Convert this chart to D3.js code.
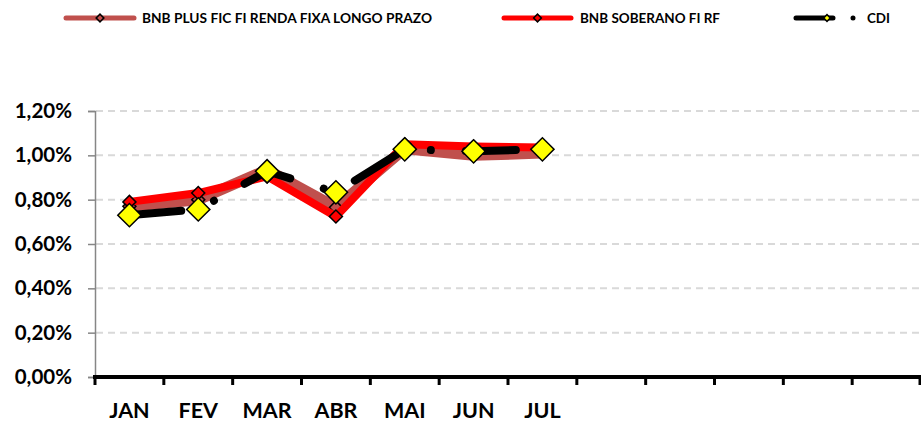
<!DOCTYPE html>
<html>
<head>
<meta charset="utf-8">
<script src="https://cdn.jsdelivr.net/npm/d3@7"></script>
<style>
body { margin: 0; background: #fff; }
svg { display: block; font-family: Lato, "Open Sans", sans-serif; font-weight: bold; }
</style>
</head>
<body>
<svg width="921" height="422"></svg>
<script>
// months on the axis (only Jan-Jul have data / labels)
const months = ["JAN", "FEV", "MAR", "ABR", "MAI", "JUN", "JUL", "AGO", "SET", "OUT", "NOV", "DEZ"];
const tickLabels = ["JAN", "FEV", "MAR", "ABR", "MAI", "JUN", "JUL", "", "", "", "", ""];

// monthly returns, %
const plusValues = [0.77, 0.80, 0.935, 0.765, 1.03, 1.00, 1.01];
const soberanoValues = [0.79, 0.83, 0.905, 0.724, 1.05, 1.04, 1.035];
const cdiValues = [0.73, 0.756, 0.928, 0.833, 1.027, 1.018, 1.027];

const yTicks = [0, 0.2, 0.4, 0.6, 0.8, 1.0, 1.2];

const series = [
	{ name: "BNB PLUS FIC FI RENDA FIXA LONGO PRAZO", values: plusValues, color: "#C0504D", width: 11, marker: "#C0504D", msize: 85 },
	{ name: "BNB SOBERANO FI RF", values: soberanoValues, color: "#FF0000", width: 8, marker: "#FF0000", msize: 85 },
	{ name: "CDI", values: cdiValues, color: "#000000", width: 8, marker: "#FFFF00", msize: 270, dash: "50,35,0.01,35" }
];

var svg = d3.select("svg");

var x = d3.scaleBand()
	.domain(d3.range(months.length))
	.range([95, 921]);

var y = d3.scaleLinear()
	.domain([0, 1.2])
	.range([377, 111]);

// gridlines
svg.append("g")
	.selectAll("line")
	.data(yTicks.filter(function (d) { return d > 0; }))
	.enter().append("line")
	.attr("x1", 96)
	.attr("x2", 921)
	.attr("y1", function (d) { return y(d); })
	.attr("y2", function (d) { return y(d); })
	.attr("stroke", "#d9d9d9")
	.attr("stroke-width", 2)
	.attr("stroke-dasharray", "7,5");

// y axis
var yAxis = svg.append("g")
	.attr("transform", "translate(95,0)")
	.call(d3.axisLeft(y)
		.tickValues(yTicks)
		.tickSize(7)
		.tickPadding(16)
		.tickFormat(function (d) { return d.toFixed(2).replace(".", ",") + "%"; }));
yAxis.select(".domain").attr("stroke", "#868686").attr("stroke-width", 1.5);
yAxis.selectAll(".tick line").attr("stroke", "#868686").attr("stroke-width", 1.5);
yAxis.selectAll("text")
	.attr("fill", "#000")
	.attr("font-size", 20.5)
	.attr("font-family", "Lato, sans-serif")
	.attr("font-weight", "bold");

// x axis: thick baseline with ticks at category boundaries
var xAxis = svg.append("g");
xAxis.append("line")
	.attr("x1", 93)
	.attr("x2", 921)
	.attr("y1", y(0))
	.attr("y2", y(0))
	.attr("stroke", "#000")
	.attr("stroke-width", 4);
xAxis.selectAll(".xtick")
	.data(d3.range(months.length + 1))
	.enter().append("line")
	.attr("class", "xtick")
	.attr("x1", function (i) { return i < months.length ? x(i) : x.range()[1] - 1; })
	.attr("x2", function (i) { return i < months.length ? x(i) : x.range()[1] - 1; })
	.attr("y1", y(0))
	.attr("y2", y(0) + 8)
	.attr("stroke", "#000")
	.attr("stroke-width", 3);

var xLabels = svg.append("g")
	.attr("transform", "translate(0," + (y(0) + 23) + ")")
	.call(d3.axisBottom(x)
		.tickSize(0)
		.tickFormat(function (i) { return tickLabels[i]; }));
xLabels.select(".domain").remove();
xLabels.selectAll("text")
	.attr("fill", "#000")
	.attr("font-size", 21.5)
	.attr("font-family", "Lato, sans-serif")
	.attr("font-weight", "bold");

var line = d3.line()
	.x(function (d, i) { return x(i) + x.bandwidth() / 2; })
	.y(function (d) { return y(d); });

var diamond = function (size) {
	return d3.symbol(d3.symbolSquare, size)();
};

// series: line then markers, in drawing order
series.forEach(function (s) {
	var g = svg.append("g");
	g.append("path")
		.datum(s.values)
		.attr("d", line)
		.attr("fill", "none")
		.attr("stroke", s.color)
		.attr("stroke-width", s.width)
		.attr("stroke-linejoin", "round")
		.attr("stroke-linecap", "round")
		.attr("stroke-dasharray", s.dash || null)
		.attr("stroke-dashoffset", s.dash ? -2 : null);

	g.selectAll(".marker")
		.data(s.values)
		.enter().append("path")
		.attr("class", "marker")
		.attr("d", diamond(s.msize))
		.attr("transform", function (d, i) {
			return "translate(" + (x(i) + x.bandwidth() / 2) + "," + y(d) + ") rotate(45)";
		})
		.attr("fill", s.marker)
		.attr("stroke", "#000")
		.attr("stroke-width", 1.5);
});

// legend
var legendPos = [
	{ x1: 64, x2: 136, tx: 142, tw: 290 },
	{ x1: 502, x2: 573, tx: 580, tw: 140 },
	{ x1: 794, x2: 862, tx: 867, tw: 23 }
];
var legend = svg.append("g").attr("transform", "translate(0,18)");
series.forEach(function (s, k) {
	var p = legendPos[k];
	legend.append("line")
		.attr("x1", p.x1 + 2)
		.attr("x2", p.x2 - 2)
		.attr("stroke", s.color)
		.attr("stroke-width", 5)
		.attr("stroke-linecap", "round")
		.attr("stroke-dasharray", s.dash ? "37,20,0.01,100" : null);
	legend.append("path")
		.attr("d", diamond(s.dash ? 22 : 30))
		.attr("transform", "translate(" + (s.dash ? 827 : (p.x1 + p.x2) / 2) + ",0) rotate(45)")
		.attr("fill", s.marker)
		.attr("stroke", "#000")
		.attr("stroke-width", 1.5);
	legend.append("text")
		.attr("x", p.tx)
		.attr("dy", "0.35em")
		.attr("font-size", 13.5)
		.attr("textLength", p.tw)
		.attr("lengthAdjust", "spacingAndGlyphs")
		.attr("fill", "#000")
		.text(s.name);
});
</script>
</body>
</html>
